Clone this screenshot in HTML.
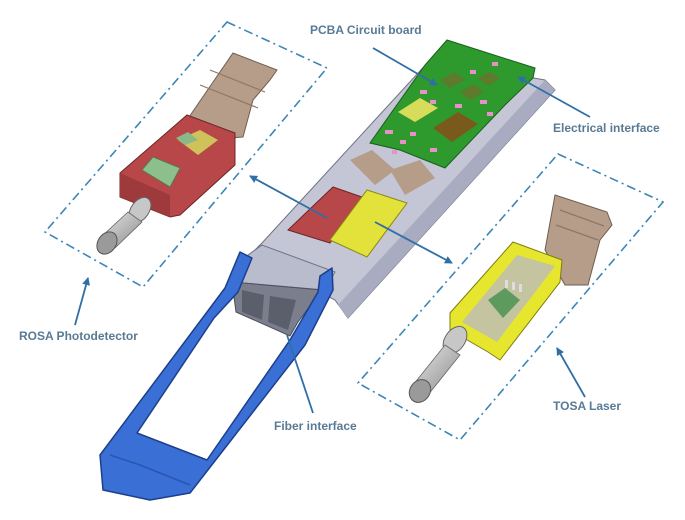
<!DOCTYPE html>
<html><head><meta charset="utf-8"><style>
html,body{margin:0;padding:0;background:#fff;width:685px;height:520px;overflow:hidden}
svg{display:block}
text{font-family:"Liberation Sans",sans-serif;font-weight:bold;font-size:12px;fill:#587a94}
</style></head><body>
<svg width="685" height="520" viewBox="0 0 685 520" xmlns="http://www.w3.org/2000/svg">
<defs>
<marker id="ah" markerWidth="8" markerHeight="8" refX="7" refY="4" orient="auto" markerUnits="userSpaceOnUse">
<path d="M0,0 L8,4 L0,8 z" fill="#2f6fa6"/></marker>
<linearGradient id="cyl" x1="0" y1="0" x2="1" y2="1"><stop offset="0" stop-color="#e8e8e8"/><stop offset="1" stop-color="#8a8a8a"/></linearGradient>
</defs>
<g fill="none" stroke="#3b86b8" stroke-width="1.6" stroke-dasharray="9,4,2,4">
<polygon points="227,22 327,68 143,287 45,232"/>
<polygon points="558,154 663,202 460,440 358,383"/>
</g>

<!-- ROSA -->
<polygon points="187,120 233,53 277,70 270,80 253,100 243,137 200,140" fill="#b59d8a" stroke="#6f5d50" stroke-width="1"/>
<path d="M200,85 L258,108 M210,70 L265,92" stroke="#8d7766" stroke-width="1.2"/>
<polygon points="120,173 187,115 235,133 235,165 180,215 170,217 120,197" fill="#b8474a" stroke="#6e2626" stroke-width="1"/>
<polygon points="120,173 170,195 170,217 120,197" fill="#9e3a3c"/>
<polygon points="178,140 200,130 218,140 198,155" fill="#d0c25a"/>
<polygon points="176,138 188,132 198,140 185,145" fill="#8ab888"/>
<polygon points="142,170 153,157 180,168 170,187" fill="#8dbf8c" stroke="#4a7a4a" stroke-width="0.8"/>
<ellipse cx="140" cy="210" rx="9" ry="14" transform="rotate(35 140 210)" fill="#c7c7c7" stroke="#666"/>
<polygon points="128,212 142,222 115,248 100,238" fill="url(#cyl)" stroke="#666" stroke-width="0.8"/>
<ellipse cx="107" cy="243" rx="9" ry="12" transform="rotate(35 107 243)" fill="#9a9a9a" stroke="#555"/>

<!-- main tray -->
<polygon points="430,60 545,80 555,90 348,318 335,300 250,255 262,243" fill="#c4c6d6" stroke="#6f7284" stroke-width="1"/>
<polygon points="545,80 555,90 348,318 338,305" fill="#a9acc0"/>
<!-- PCB -->
<polygon points="447,40 535,68 533,78 505,105 445,168 400,150 370,143 425,65" fill="#2e9a2e" stroke="#1b5e1b" stroke-width="1"/>
<polygon points="398,112 420,98 438,108 415,122" fill="#d7dc5a"/>
<polygon points="433,128 458,112 478,124 452,142" fill="#7a5a1c"/>
<polygon points="440,80 455,72 465,80 450,88" fill="#5e7a2c"/>
<polygon points="460,92 474,84 484,92 470,100" fill="#5e7a2c"/>
<polygon points="478,78 490,72 500,78 488,86" fill="#5e7a2c"/>
<g fill="#e890c8">
<rect x="385" y="130" width="8" height="4"/><rect x="400" y="140" width="6" height="4"/><rect x="420" y="90" width="7" height="4"/>
<rect x="430" y="100" width="6" height="4"/><rect x="455" y="104" width="7" height="4"/><rect x="480" y="100" width="7" height="4"/>
<rect x="470" y="70" width="6" height="4"/><rect x="492" y="62" width="6" height="4"/><rect x="410" y="132" width="6" height="4"/>
<rect x="430" y="148" width="7" height="4"/><rect x="392" y="150" width="5" height="4"/><rect x="487" y="112" width="6" height="4"/>
</g>
<polygon points="350,160 372,150 395,170 375,185" fill="#b59d8a"/>
<polygon points="390,170 420,160 435,178 405,195" fill="#b59d8a"/>
<polygon points="288,230 333,187 362,197 330,243" fill="#b8474a" stroke="#6e2626" stroke-width="1"/>
<polygon points="330,240 367,190 407,203 367,257" fill="#e2e23a" stroke="#8a8a10" stroke-width="1"/>
<!-- front housing -->
<polygon points="248,255 262,245 335,272 325,290 232,282" fill="#b9bccc" stroke="#6f7284"/>
<polygon points="232,282 322,290 298,322 290,336 236,312" fill="#7b7e8c" stroke="#4c4f5c"/>
<polygon points="242,290 264,295 262,320 242,312" fill="#5b5e6b"/>
<polygon points="270,296 296,300 288,330 268,322" fill="#5b5e6b"/>
<!-- handle (U shape) -->
<polygon points="240,252 225,288 100,455 103,490 150,500 190,493 305,345 333,290 332,268 320,276 318,292 290,340 207,460 137,433 214,318 238,292 252,258" fill="#3a6fd6" stroke="#1d3f8a" stroke-width="1.5" stroke-linejoin="round"/>
<path d="M110,455 L140,465 L190,485" stroke="#2a56b0" stroke-width="1.5" fill="none"/>

<!-- TOSA -->
<polygon points="555,195 607,212 612,225 600,240 588,285 565,285 545,250" fill="#b59d8a" stroke="#6f5d50"/>
<path d="M560,210 L604,226 M556,225 L598,240" stroke="#8d7766" stroke-width="1.2"/>
<polygon points="513,242 562,260 560,282 500,360 488,352 450,330 450,313" fill="#e6e62e" stroke="#7e7e10" stroke-width="1"/>
<polygon points="517,255 555,266 497,342 462,322" fill="#c4c4a0"/>
<polygon points="488,300 505,288 520,300 503,318" fill="#5e9a5e"/>
<g fill="#ddd"><rect x="505" y="280" width="3" height="8"/><rect x="512" y="282" width="3" height="8"/><rect x="519" y="284" width="3" height="8"/></g>
<ellipse cx="455" cy="340" rx="10" ry="15" transform="rotate(35 455 340)" fill="#c7c7c7" stroke="#666"/>
<polygon points="445,345 460,355 428,395 413,385" fill="url(#cyl)" stroke="#666" stroke-width="0.8"/>
<ellipse cx="420" cy="391" rx="10" ry="12" transform="rotate(35 420 391)" fill="#9a9a9a" stroke="#555"/>

<g stroke="#2f6fa6" stroke-width="1.8" fill="none">
<line x1="373" y1="48" x2="437" y2="85" marker-end="url(#ah)"/>
<line x1="590" y1="117" x2="518" y2="77" marker-end="url(#ah)"/>
<line x1="327" y1="218" x2="250" y2="176" marker-end="url(#ah)"/>
<line x1="375" y1="222" x2="452" y2="263" marker-end="url(#ah)"/>
<line x1="75" y1="325" x2="88" y2="278" marker-end="url(#ah)"/>
<line x1="585" y1="397" x2="557" y2="348" marker-end="url(#ah)"/>
<line x1="313" y1="413" x2="287" y2="335"/>
</g>
<text x="310" y="34">PCBA Circuit board</text>
<text x="553" y="132">Electrical interface</text>
<text x="19" y="340">ROSA Photodetector</text>
<text x="553" y="410">TOSA Laser</text>
<text x="274" y="430">Fiber interface</text>
</svg>
</body></html>
